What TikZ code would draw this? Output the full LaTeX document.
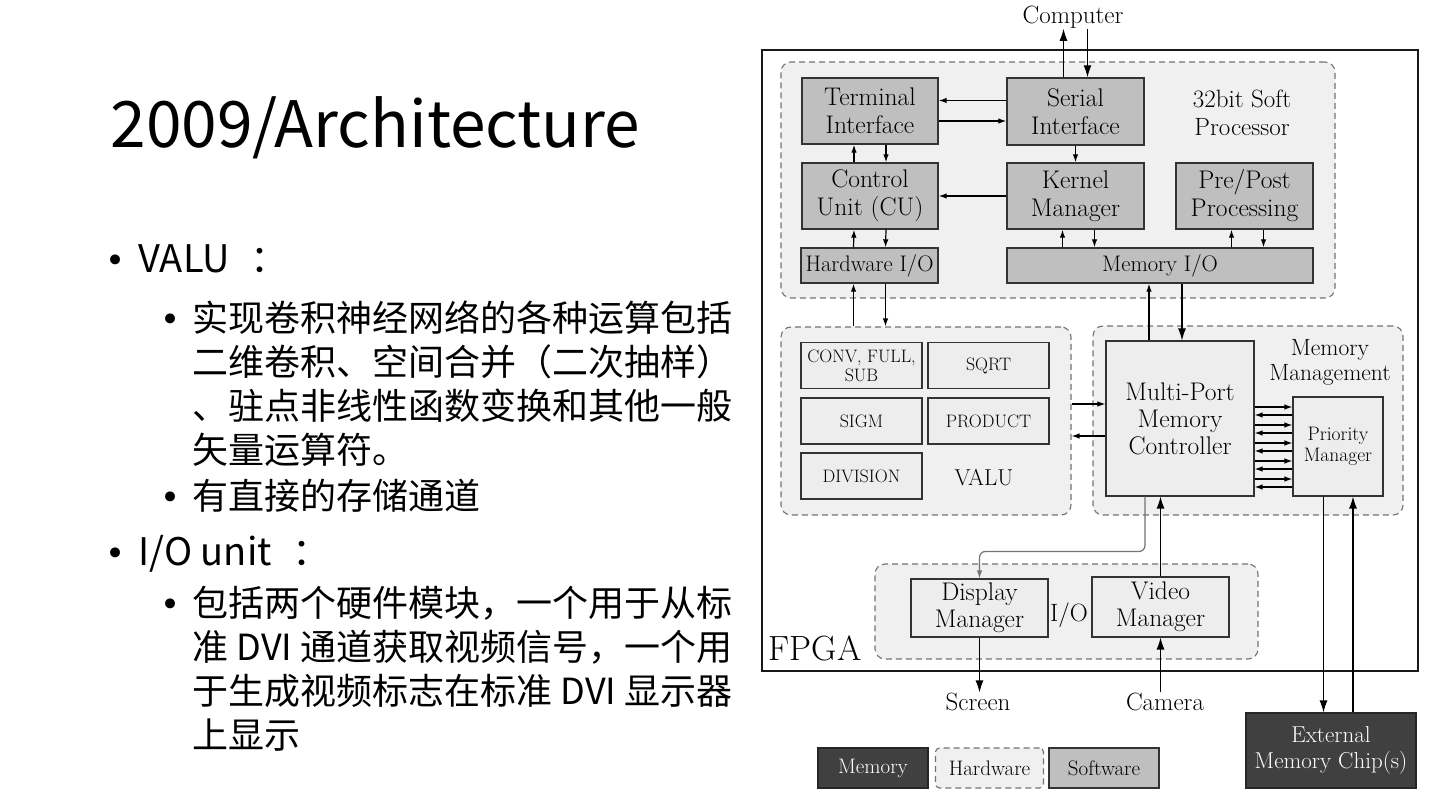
\documentclass[tikz,border=0pt]{standalone}
\usepackage{fontspec}
\newfontfamily\cjk{Noto Sans CJK SC}
\newfontfamily\dejavu{DejaVu Sans}
\usetikzlibrary{arrows.meta}

\begin{document}
\begin{tikzpicture}[
		x=1pt, y=-1pt, line width=1.2pt,
		>={Latex[length=8pt,width=5.5pt]},
		bigtip/.style={-{Latex[length=12pt,width=8pt]}},
		softbox/.style={draw=black!80, line width=1.4pt, fill=black!25, align=center, inner sep=0pt, font=\fontsize{25.5}{28}\selectfont},
		hwbox/.style={draw=black!80, line width=1.1pt, fill=black!7, align=center, inner sep=0pt, font=\fontsize{25.5}{27}\selectfont},
		opbox/.style={hwbox, minimum width=121pt, minimum height=46pt, font=\fontsize{18}{19}\selectfont},
		region/.style={draw=black!55, line width=1.1pt, dash pattern=on 6pt off 4pt, fill=black!6, rounded corners=10pt, inner sep=0pt},
		membox/.style={draw=black!85, line width=1.1pt, fill=black!75, text=white, align=center, inner sep=0pt},
		lbl/.style={align=center, inner sep=0pt, font=\fontsize{25}{28}\selectfont},
		dot/.style={inner sep=0pt, anchor=base, font=\dejavu\fontsize{34}{40}\selectfont},
		lvlone/.style={inner sep=0pt, font=\cjk\fontsize{38}{44}\selectfont},
		lvltwo/.style={inner sep=0pt, align=left, font=\cjk\fontsize{36}{44}\selectfont},
	]
	\useasboundingbox (0,0) rectangle (1440,810);
	\fill[white] (0,0) rectangle (1440,810);

	%Slide text
	\node[anchor=base west, inner sep=0pt, font=\cjk\fontsize{64}{70}\selectfont] (title) at (110,148) {2009/Architecture};
	\node[dot] (dotA) at (116,273) {•};
	\node[lvlone, anchor=base west] (valutxt) at (138,273) {VALU\hspace{0.55em}：};
	\node[dot] (dotA1) at (171,331) {•};
	\node[lvltwo, anchor=base west] (paraA1) at (192,463) {实现卷积神经网络的各种运算包括\\二维卷积、空间合并（二次抽样）\\、驻点非线性函数变换和其他一般\\矢量运算符。};
	\node[dot] (dotA2) at (171,509) {•};
	\node[lvltwo, anchor=base west] (paraA2) at (192,509) {有直接的存储通道};
	\node[dot] (dotB) at (116,565) {•};
	\node[lvlone, anchor=base west] (iotxt) at (138,565) {I/O unit\hspace{0.55em}：};
	\node[dot] (dotB1) at (171,616) {•};
	\node[lvltwo, anchor=base west] (paraB1) at (192,748) {包括两个硬件模块，一个用于从标\\准 DVI 通道获取视频信号，一个用\\于生成视频标志在标准 DVI 显示器\\上显示};

	%Regions
	\node[draw=black!90, line width=1.3pt, fill=white, minimum width=656pt, minimum height=621pt, inner sep=0pt] (fpga) at (1090,360.5) {};
	\node[region, minimum width=554pt, minimum height=236pt] (soft) at (1058,180) {};
	\node[region, minimum width=290pt, minimum height=188pt] (valu) at (926,421) {};
	\node[region, minimum width=310pt, minimum height=189pt] (mm) at (1248,420.5) {};
	\node[region, minimum width=383pt, minimum height=95pt] (io) at (1066.5,611.5) {};

	%Software blocks
	\node[softbox, minimum width=136pt, minimum height=66pt] (term) at (870,111) {Terminal\\Interface};
	\node[softbox, minimum width=137pt, minimum height=67pt] (ser) at (1075.5,111.5) {Serial\\Interface};
	\node[softbox, minimum width=136pt, minimum height=66pt] (cu) at (870,196) {Control\\Unit (CU)};
	\node[softbox, minimum width=137pt, minimum height=66pt] (km) at (1075.5,196) {Kernel\\Manager};
	\node[softbox, minimum width=137pt, minimum height=66pt] (pp) at (1244.5,196) {Pre/Post\\Processing};
	\node[softbox, minimum width=137pt, minimum height=35pt, font=\fontsize{22.5}{25}\selectfont] (hwio) at (869.5,265.5) {Hardware I/O};
	\node[softbox, minimum width=306pt, minimum height=35pt, font=\fontsize{22.5}{25}\selectfont] (memio) at (1160,265.5) {Memory I/O};

	%Hardware blocks
	\node[opbox] (conv) at (861.5,365.5) {CONV, FULL,\\SUB};
	\node[opbox] (sqrt) at (988.5,365.5) {SQRT};
	\node[opbox] (sigm) at (861.5,421) {SIGM};
	\node[opbox] (prod) at (988.5,421) {PRODUCT};
	\node[opbox] (divi) at (861.5,476) {DIVISION};
	\node[hwbox, minimum width=148pt, minimum height=155pt] (mpmc) at (1180,418.5) {Multi-Port\\Memory\\Controller};
	\node[hwbox, minimum width=90pt, minimum height=99pt, font=\fontsize{19.5}{21}\selectfont] (pm) at (1338,446.5) {Priority\\Manager};
	\node[hwbox, minimum width=137pt, minimum height=58pt] (disp) at (979.5,608) {Display\\Manager};
	\node[hwbox, minimum width=137pt, minimum height=60pt] (vid) at (1160.5,607) {Video\\Manager};
	\node[membox, minimum width=170pt, minimum height=75pt, font=\fontsize{23}{26}\selectfont] (ext) at (1331,750.5) {External\\Memory Chip(s)};

	%Labels
	\node[lbl] (softlbl) at (1242,113) {32bit Soft\\Processor};
	\node[lbl, font=\fontsize{23}{25}\selectfont] (valulbl) at (984,478) {VALU};
	\node[lbl, font=\fontsize{23.5}{25}\selectfont] (mmlbl) at (1330,362) {Memory\\Management};
	\node[lbl] (iolbl) at (1069,615) {I/O};
	\node[lbl, font=\fontsize{35}{38}\selectfont] (fpgalbl) at (815,648) {FPGA};
	\node[lbl] (comp) at (1073,17) {Computer};
	\node[lbl] (screen) at (978,702) {Screen};
	\node[lbl] (camera) at (1165,702) {Camera};

	%Legend
	\node[membox, minimum width=110pt, minimum height=40pt, font=\fontsize{21}{22}\selectfont] (legmem) at (873,768) {Memory};
	\node[region, rounded corners=4pt, minimum width=108pt, minimum height=40pt, font=\fontsize{21}{22}\selectfont] (leghw) at (989.5,768) {Hardware};
	\node[softbox, line width=1.1pt, minimum width=110pt, minimum height=40pt, font=\fontsize{21}{22}\selectfont] (legsw) at (1104,768) {Software};

	%Lines
	\draw[bigtip] ([xshift=-12pt]ser.north) -- ([xshift=-12pt]ser.north |- comp.south);
	\draw[bigtip] ([xshift=12pt]ser.north |- comp.south) -- ([xshift=12pt]ser.north);
	\draw[->] ([yshift=11pt]ser.west) -- ([yshift=11pt]ser.west -| term.east);
	\draw[->] ([yshift=-10pt]term.east) -- ([yshift=-10pt]term.east -| ser.west);
	\draw[->] (ser.south) -- (km.north);
	\draw[->] ([xshift=-16pt]cu.north) -- ([xshift=-16pt]term.south);
	\draw[->] ([xshift=16pt]term.south) -- ([xshift=16pt]cu.north);
	\draw[->] (km.west) -- (cu.east);
	\draw[->] ([xshift=-16pt]hwio.north) -- ([xshift=-16pt]cu.south);
	\draw[->] ([xshift=16pt]cu.south) -- ([xshift=16pt]hwio.north);
	\draw[->] ([xshift=-13pt]km.south |- memio.north) -- ([xshift=-13pt]km.south);
	\draw[->] ([xshift=19pt]km.south) -- ([xshift=19pt]km.south |- memio.north);
	\draw[->] ([xshift=-13pt]pp.south |- memio.north) -- ([xshift=-13pt]pp.south);
	\draw[->] ([xshift=19pt]pp.south) -- ([xshift=19pt]pp.south |- memio.north);
	\draw[->] ([xshift=-16pt]hwio.south |- valu.north) -- ([xshift=-16pt]hwio.south);
	\draw[->] ([xshift=16pt]hwio.south) -- ([xshift=16pt]hwio.south |- valu.north);
	\draw[->] ([xshift=-11pt]memio.south |- mpmc.north) -- ([xshift=-11pt]memio.south);
	\draw[bigtip] ([xshift=22pt]memio.south) -- ([xshift=22pt]memio.south |- mpmc.north);
	\draw[->] ([yshift=17pt]valu.east) -- ([yshift=17pt]valu.east -| mpmc.west);
	\draw[->] ([yshift=-17.5pt]mpmc.west) -- ([yshift=-17.5pt]mpmc.west -| valu.east);
	\foreach \dy/\ey in {39.5/31.5, 21.5/13.5, 3.5/-4.5, -14.5/-22.5, -32.5/-40.5} {
		\draw[->] ([yshift=\dy pt]pm.west -| mpmc.east) -- ([yshift=\dy pt]pm.west);
		\draw[->] ([yshift=\ey pt]pm.west) -- ([yshift=\ey pt]pm.west -| mpmc.east);
	}
	\draw[->, draw=black!55, rounded corners=6pt] ([xshift=-35pt]mpmc.south) |- ([yshift=27pt]disp.north) -- (disp.north);
	\draw[bigtip] (vid.north) -- (vid.north |- mpmc.south);
	\draw[bigtip] (disp.south) -- (disp.south |- screen.north);
	\draw[bigtip] (vid.south |- camera.north) -- (vid.south);
	\draw[bigtip] ([xshift=-14.5pt]pm.south) -- ([xshift=-14.5pt]pm.south |- ext.north);
	\draw[bigtip] ([xshift=15pt]pm.south |- ext.north) -- ([xshift=15pt]pm.south);

\end{tikzpicture}
\end{document}
